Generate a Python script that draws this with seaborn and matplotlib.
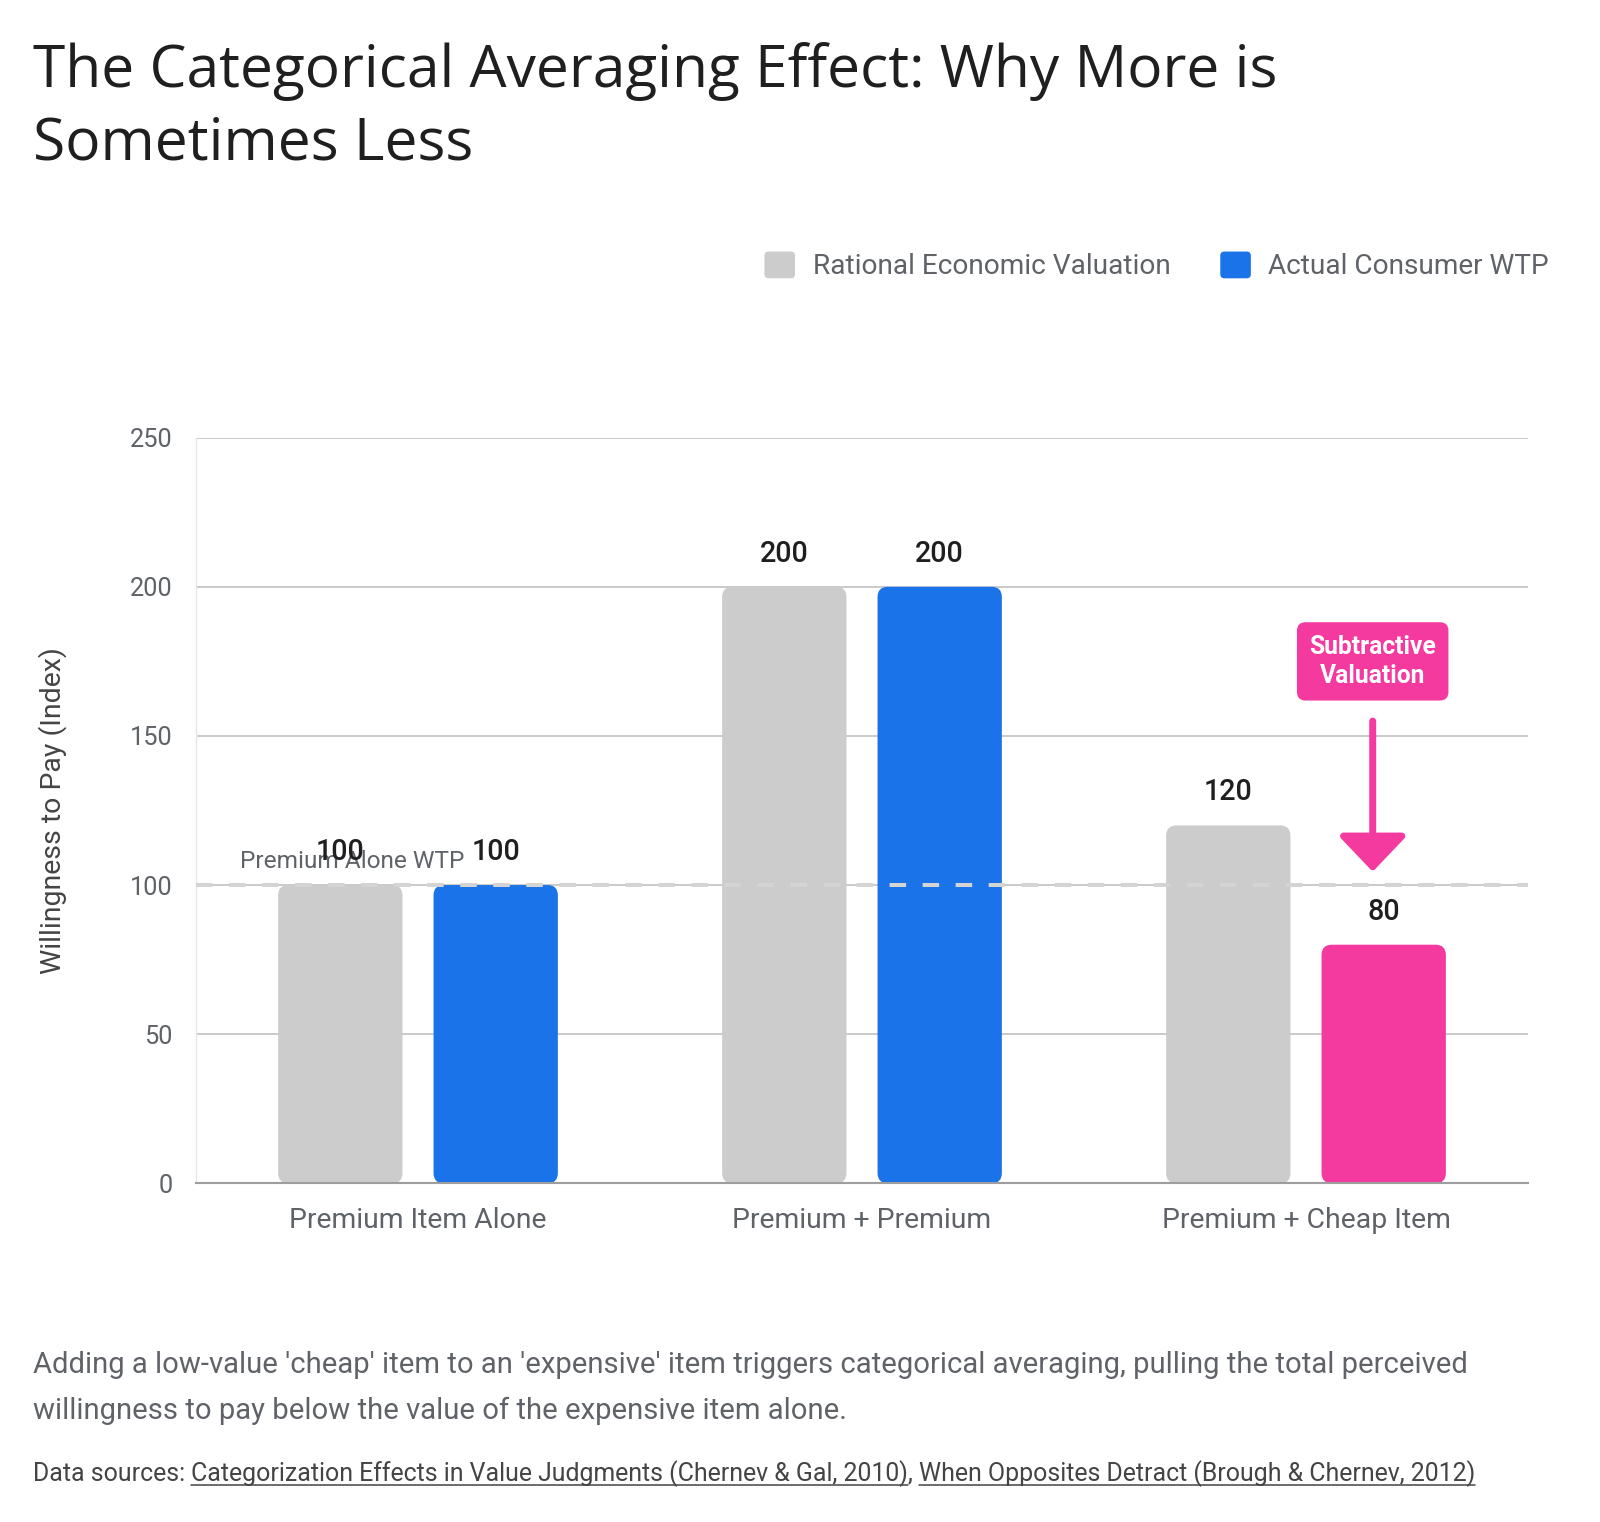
import matplotlib
matplotlib.use("Agg")
import matplotlib.pyplot as plt
import seaborn as sns
import pandas as pd
from matplotlib.patches import FancyBboxPatch, Patch
from matplotlib.legend_handler import HandlerPatch
from matplotlib.lines import Line2D

# ---------------- data ----------------
categories = ["Premium Item Alone", "Premium + Premium", "Premium + Cheap Item"]
series_names = ["Rational Economic Valuation", "Actual Consumer WTP"]
rational_values = [100, 200, 120]
actual_values = [100, 200, 80]
y_ticks = [0, 50, 100, 150, 200, 250]
reference_value = 100
reference_label = "Premium Alone WTP"
highlight_category = "Premium + Cheap Item"
callout_label = "Subtractive\nValuation"
callout_y = 175
arrow_from, arrow_to = 155, 104.5

title_lines = ["The Categorical Averaging Effect: Why More is", "Sometimes Less"]
y_label = "Willingness to Pay (Index)"
caption_lines = [
    "Adding a low-value 'cheap' item to an 'expensive' item triggers categorical averaging, pulling the total perceived",
    "willingness to pay below the value of the expensive item alone.",
]
source_parts = [
    ("Data sources: ", False),
    ("Categorization Effects in Value Judgments (Chernev & Gal, 2010)", True),
    (", ", False),
    ("When Opposites Detract (Brough & Chernev, 2012)", True),
]

GRAY = "#cccccc"
BLUE = "#1a73e8"
PINK = "#f43a9f"
TXT = "#5f6368"

df = pd.DataFrame({
    "Scenario": categories * 2,
    "Series": [series_names[0]] * 3 + [series_names[1]] * 3,
    "Value": rational_values + actual_values,
})

# ---------------- figure ----------------
sns.set_style("white")
BODY = ["Roboto", "DejaVu Sans"]
HEAD = ["Open Sans", "DejaVu Sans"]
plt.rcParams["font.family"] = BODY

W, H = 1600, 1522
fig = plt.figure(figsize=(W / 100, H / 100), dpi=100)
renderer = fig.canvas.get_renderer()


def fx(x):
    return x / W


def fy(y):
    return 1 - y / H


def fit_size(s, target_px, family=BODY, weight="normal", base=20.0):
    t = fig.text(0, 0, s, fontsize=base, family=family, fontweight=weight)
    w = t.get_window_extent(renderer).width
    t.remove()
    return base * target_px / w


ax_l, ax_r, ax_t, ax_b = 196, 1528, 437.7, 1183.3
ax = fig.add_axes([fx(ax_l), fy(ax_b), fx(ax_r - ax_l), (ax_b - ax_t) / H])

sns.barplot(data=df, x="Scenario", y="Value", hue="Series", order=categories,
            hue_order=series_names, palette=[GRAY, BLUE], width=0.7, gap=0.2,
            saturation=1, legend=False, ax=ax)

ax.set_xlim(-0.5, len(categories) - 0.5)
ax.set_ylim(0, max(y_ticks))
ax.set_yticks(y_ticks)
ax.set_xlabel("")
ax.set_ylabel("")
ax.grid(axis="y", color="#c6c6c6", lw=1.3, zorder=0)
ax.set_axisbelow(True)
for s in ["right", "top"]:
    ax.spines[s].set_visible(False)
ax.spines["left"].set_color("#e6e6e6")
ax.spines["left"].set_linewidth(1.0)
ax.spines["bottom"].set_color("#9e9e9e")
ax.spines["bottom"].set_linewidth(1.5)

ytick_fs = fit_size("250", 42.7)
xtick_fs = fit_size(categories[0], 258)
ax.tick_params(axis="y", length=0, pad=17, labelsize=ytick_fs, labelcolor=TXT)
ax.tick_params(axis="x", length=0, pad=17, labelsize=xtick_fs, labelcolor=TXT)

# rounded bars
px_per_x = (ax_r - ax_l) / len(categories)
px_per_y = (ax_b - ax_t) / max(y_ticks)
asp = px_per_x / px_per_y
r = 10.2 / px_per_x
val_fs = fit_size("200", 49, weight="medium")
highlight_center = None
for ci, cont in enumerate(ax.containers):
    for bi, rect in enumerate(cont):
        x, w, h = rect.get_x(), rect.get_width(), rect.get_height()
        color = rect.get_facecolor()
        if ci == 1 and categories[bi] == highlight_category:
            color = PINK
            highlight_center = x + w / 2
        rect.set_visible(False)
        fb = FancyBboxPatch((x, 0), w, h, boxstyle=f"round,pad=0,rounding_size={r}",
                            mutation_aspect=asp, fc=color, ec="none", zorder=2)
        ax.add_patch(fb)
        ax.text(x + w / 2, h + 33 / px_per_y, f"{h:.0f}", ha="center", va="center",
                fontsize=val_fs, fontweight="medium", color="#1f1f1f", zorder=5)

# reference line
ax.axhline(reference_value, color="#d4d4d4", lw=2.9, ls=(0, (4.1, 4.1)),
           solid_capstyle="butt", zorder=3)
ref_fs = fit_size(reference_label, 224)
ax.annotate(reference_label, xy=((240 - ax_l) / (ax_r - ax_l), reference_value),
            xycoords=("axes fraction", "data"), xytext=(0, 24 * 0.72),
            textcoords="offset points", ha="left", va="center", fontsize=ref_fs,
            color=TXT, zorder=4)

# callout
cx = highlight_center - 11 / px_per_x
call_fs = fit_size("Subtractive", 126.5, weight="bold")
ax.text(cx, callout_y, callout_label, ha="center", va="center", color="white",
        fontsize=call_fs, fontweight="bold", linespacing=1.3, zorder=6,
        bbox=dict(boxstyle="round,pad=0.5,rounding_size=0.35", fc=PINK, ec="none"))
ax.annotate("", xy=(cx, arrow_to), xytext=(cx, arrow_from),
            arrowprops=dict(arrowstyle="-|>,head_length=1.1,head_width=1.05",
                            color=PINK, lw=5, shrinkA=0, shrinkB=0, mutation_scale=20),
            zorder=6)

# y label
yl_fs = fit_size(y_label, 326)
fig.text(fx(53), fy(810.5), y_label, rotation=90, ha="center", va="center",
         fontsize=yl_fs, color="#444444")


# legend
class RoundHandler(HandlerPatch):
    def create_artists(self, legend, orig_handle, xdescent, ydescent, width, height,
                       fontsize, trans):
        p = FancyBboxPatch((-xdescent, -ydescent), width, height,
                           boxstyle="round,pad=0,rounding_size=3",
                           fc=orig_handle.get_facecolor(), ec="none", transform=trans)
        return [p]


handles = [Patch(facecolor=GRAY), Patch(facecolor=BLUE)]
fs = fit_size(series_names[0], 358)
fpx = fs * 100 / 72
leg = fig.legend(handles, series_names, loc="center right",
                 bbox_to_anchor=(fx(1549), fy(266)), ncol=2, frameon=False,
                 fontsize=fs, labelcolor=TXT, handlelength=30.6 / fpx,
                 handleheight=30.6 / fpx, handletextpad=17.5 / fpx,
                 columnspacing=50 / fpx, borderpad=0, borderaxespad=0,
                 handler_map={Patch: RoundHandler()})

# title
title_fs = fit_size(title_lines[0], 1242, family=HEAD)
fig.text(fx(32.6), fy(86.7), title_lines[0], ha="left", va="baseline",
         fontsize=title_fs, family=HEAD, color="#1f1f1f")
fig.text(fx(32.6), fy(160), title_lines[1], ha="left", va="baseline",
         fontsize=title_fs, family=HEAD, color="#1f1f1f")

# caption
cap_fs = fit_size(caption_lines[0], 1431)
fig.text(fx(32.6), fy(1373), caption_lines[0], ha="left", va="baseline",
         fontsize=cap_fs, color=TXT)
fig.text(fx(32.6), fy(1419), caption_lines[1], ha="left", va="baseline",
         fontsize=cap_fs, color=TXT)

# sources with underlined links
src_fs = fit_size("".join(p for p, _ in source_parts), 1439)
xcur = 32.6
base = 1481
for txt, underline in source_parts:
    t = fig.text(fx(xcur), fy(base), txt, ha="left", va="baseline", fontsize=src_fs,
                 color="#444444")
    bb = t.get_window_extent(renderer)
    if underline:
        fig.add_artist(Line2D([bb.x0 / W, bb.x1 / W], [fy(base + 4), fy(base + 4)],
                              transform=fig.transFigure, color="#444444", lw=1.1))
    xcur = bb.x1

fig.savefig("out.png", dpi=100, facecolor="white")
